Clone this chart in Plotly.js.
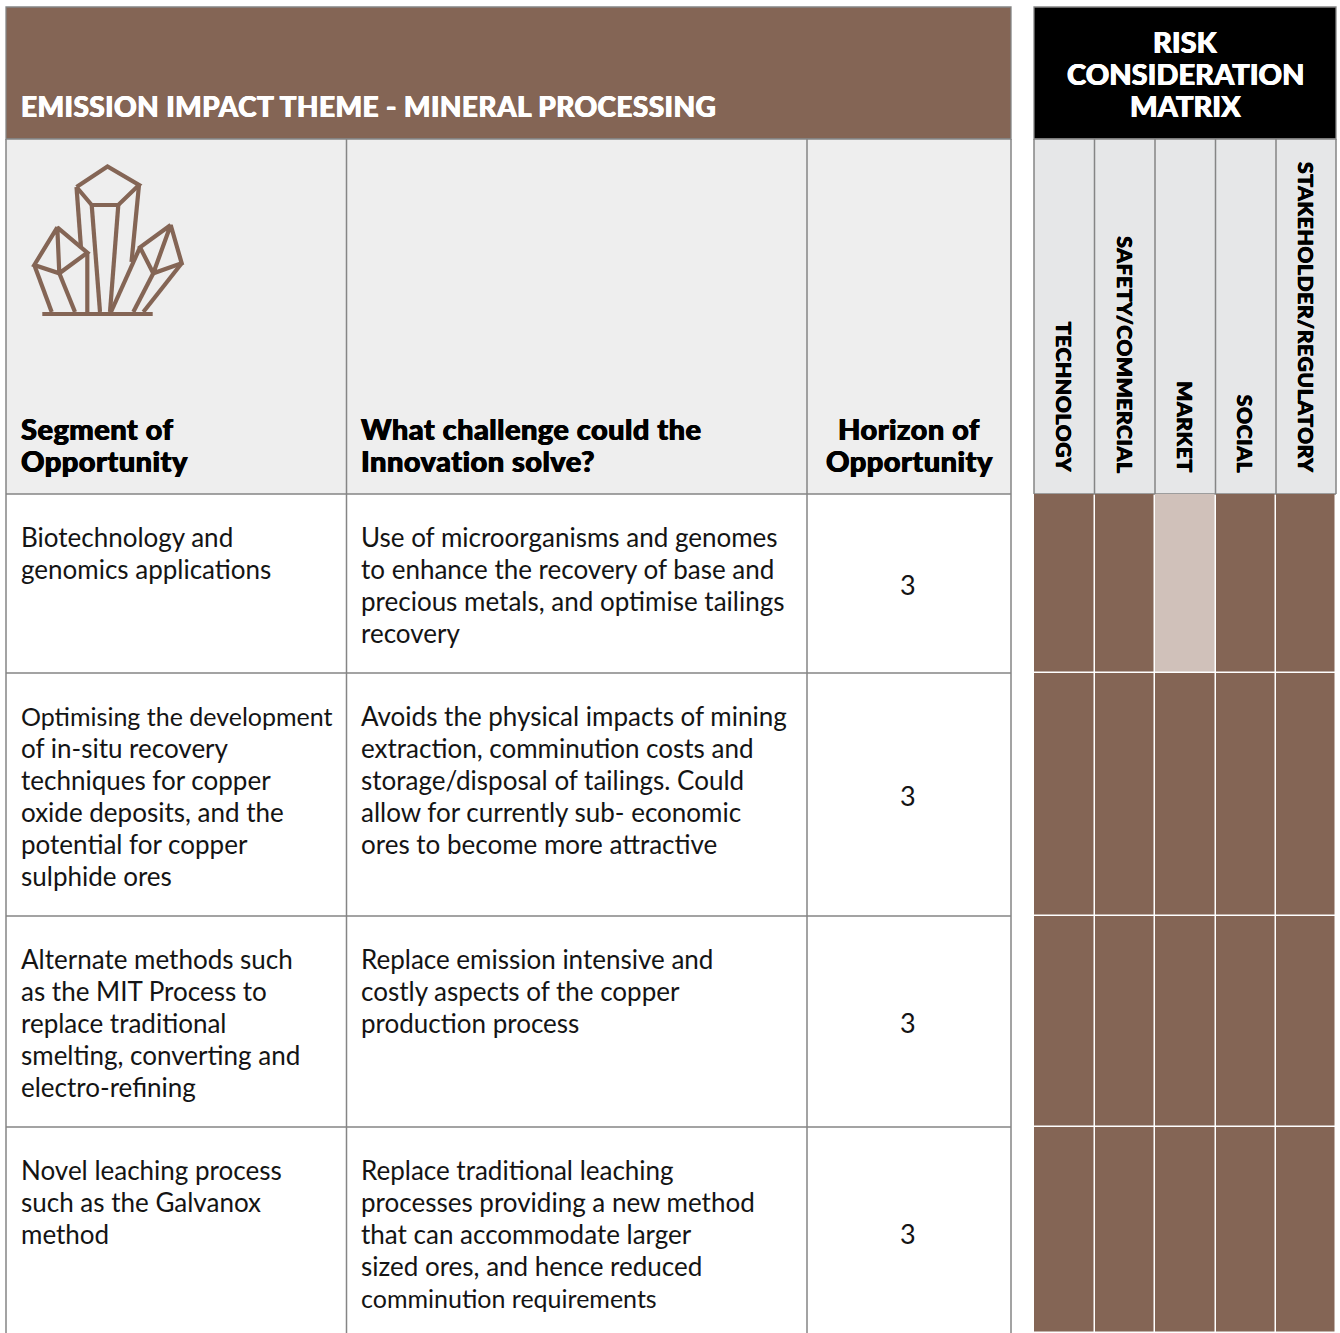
<!DOCTYPE html>
<html><head><meta charset="utf-8">
<script src="https://cdn.plot.ly/plotly-3.0.1.min.js"></script>
<style>html,body{margin:0;padding:0;background:#fff;overflow:hidden}#c{width:1340px;height:1333px}</style>
</head><body><div id="c"></div>
<script>
const FONT = 'Lato, sans-serif';
const BROWN = '#846555', LIGHT = '#d0c1ba', GRID = '#858585', INK = '#141414';

const titleText = 'EMISSION IMPACT THEME - MINERAL PROCESSING';
const matrixTitle = ['RISK', 'CONSIDERATION', 'MATRIX'];
const headers = [['Segment of', 'Opportunity'], ['What challenge could the', 'Innovation solve?'], ['Horizon of', 'Opportunity']];
const riskLabels = ['TECHNOLOGY', 'SAFETY/COMMERCIAL', 'MARKET', 'SOCIAL', 'STAKEHOLDER/REGULATORY'];
const segments = [
  ['Biotechnology and', 'genomics applications'],
  ['Optimising the development', 'of in-situ recovery', 'techniques for copper', 'oxide deposits, and the', 'potential for copper', 'sulphide ores'],
  ['Alternate methods such', 'as the MIT Process to', 'replace traditional', 'smelting, converting and', 'electro-refining'],
  ['Novel leaching process', 'such as the Galvanox', 'method']
];
const challenges = [
  ['Use of microorganisms and genomes', 'to enhance the recovery of base and', 'precious metals, and optimise tailings', 'recovery'],
  ['Avoids the physical impacts of mining', 'extraction, comminution costs and', 'storage/disposal of tailings. Could', 'allow for currently sub- economic', 'ores to become more attractive'],
  ['Replace emission intensive and', 'costly aspects of the copper', 'production process'],
  ['Replace traditional leaching', 'processes providing a new method', 'that can accommodate larger', 'sized ores, and hence reduced', 'comminution requirements']
];
const horizon = [3, 3, 3, 3];
// 1 = dark (full consideration), 0 = light
const riskZ = [
  [1, 1, 0, 1, 1],
  [1, 1, 1, 1, 1],
  [1, 1, 1, 1, 1],
  [1, 1, 1, 1, 1]
];
const tableEdgesX = [6, 346.5, 807, 1011];
const matrixEdgesX = [1034, 1094.5, 1155, 1215.5, 1276, 1336];
const rowEdgesY = [494, 673, 916, 1127, 1333];
const headerTopY = 7, headerMidY = 139;
const rowTextY = [536.5, 715.5, 958.5, 1169.5];
const horizonY = [584, 795, 1022, 1233];
const lineStep = 32;
const BODY = 26, NARROW = 25;
const narrowLines = ['Optimising the development', 'comminution requirements'];

// crystal icon outline, segments separated by null
const iconX = [76.5,107.5,139,118.3,91.7,76.5,null,76.5,81,null,139,131.5,null,91.7,100,null,118.3,110,null,
  57.3,34.3,59.3,87.3,57.3,59.3,null,34.3,51.7,null,59.3,75,null,87.3,87.3,null,
  170.7,140,153.3,181.7,170.7,153.3,null,153.3,133.3,null,181.7,143.3,null,140,111,null,42.3,152.7];
const iconY = [187,166.5,185,205,205,187,null,187,248,null,185,262,null,205,312,null,205,312,null,
  227.3,265,273.3,252.7,227.3,273.3,null,265,312,null,273.3,312,null,252.7,312,null,
  225,247.3,273.3,263.3,225,273.3,null,273.3,312,null,263.3,312,null,247.3,312,null,314,314];

function rect(x0, x1, y0, y1, fill, line) {
  return {type:'rect', xref:'x', yref:'y', layer:'below', x0, x1, y0, y1, fillcolor:fill,
    line: line ? {color:line, width:1.3} : {width:0}};
}
function vline(x, y0, y1) {
  return {type:'line', xref:'x', yref:'y', layer:'below', x0:x, x1:x, y0, y1, line:{color:GRID, width:1.5}};
}
function hline(y, x0, x1) {
  return {type:'line', xref:'x', yref:'y', layer:'below', x0, x1, y0:y, y1:y, line:{color:GRID, width:1.5}};
}
const last = rowEdgesY[rowEdgesY.length - 1];
const shapes = [
  rect(tableEdgesX[0], tableEdgesX[3], headerTopY, headerMidY, BROWN, GRID),
  rect(tableEdgesX[0], tableEdgesX[3], headerMidY, rowEdgesY[0], '#eeeeee', null),
  rect(matrixEdgesX[0], matrixEdgesX[5], headerTopY, headerMidY, '#000000', GRID),
  rect(matrixEdgesX[0], matrixEdgesX[5], headerMidY, rowEdgesY[0], '#e6e7e8', null)
];
tableEdgesX.forEach(x => shapes.push(vline(x, headerMidY, last)));
matrixEdgesX.forEach(x => shapes.push(vline(x, headerMidY, rowEdgesY[0])));
shapes.push(hline(headerMidY, tableEdgesX[0], tableEdgesX[3]));
shapes.push(hline(headerMidY, matrixEdgesX[0], matrixEdgesX[5]));
shapes.push(hline(rowEdgesY[0], matrixEdgesX[0], matrixEdgesX[5]));
rowEdgesY.slice(0, 4).forEach(y => shapes.push(hline(y, tableEdgesX[0], tableEdgesX[3])));

const ann = [];
function txt(text, x, y, size, color, heavy, anchor, angle, spacing) {
  const font = {family:FONT, size, color, weight: heavy ? 900 : 400};
  if (heavy) font.shadow = '0.5px 0 0 ' + color + ', -0.4px 0 0 ' + color;
  const label = spacing ? '<span style="letter-spacing:' + spacing + 'px">' + text + '</span>' : text;
  ann.push({text:label, x, y, xref:'x', yref:'y', showarrow:false, xanchor:anchor || 'left',
    yanchor: angle ? 'bottom' : 'middle', textangle: angle || 0, font, borderpad:0, borderwidth:0});
}
txt(titleText, 21, 105.5, 28, '#ffffff', true, 'left', 0, 0.4);
matrixTitle.forEach((t, i) => txt(t, 1185, 41 + i * lineStep, 29, '#ffffff', true, 'center'));
headers[0].forEach((t, i) => txt(t, 21, 428 + i * lineStep, 29, '#000000', true, 'left', 0, 0.45));
headers[1].forEach((t, i) => txt(t, 361, 428 + i * lineStep, 29, '#000000', true, 'left', 0, 0.45));
headers[2].forEach((t, i) => txt(t, 909, 428 + i * lineStep, 29, '#000000', true, 'center', 0, 0.45));
const bodySize = t => narrowLines.includes(t) ? NARROW : BODY;
segments.forEach((lines, r) => lines.forEach((t, i) => txt(t, 21, rowTextY[r] + i * lineStep, bodySize(t), INK)));
challenges.forEach((lines, r) => lines.forEach((t, i) => txt(t, 361, rowTextY[r] + i * lineStep, bodySize(t), INK)));
horizon.forEach((v, r) => txt(String(v), 908, horizonY[r], 27, INK, false, 'center'));
riskLabels.forEach((t, i) => txt(t, (matrixEdgesX[i] + matrixEdgesX[i + 1]) / 2 + 0.5, 473, 21, '#000000', true, 'center', 90, 0.65));

const traces = [
  {type:'heatmap', x:matrixEdgesX, y:rowEdgesY, z:riskZ, zmin:0, zmax:1, showscale:false, xgap:1.5, ygap:1.5,
   colorscale:[[0, LIGHT], [1, BROWN]], hoverinfo:'skip'},
  {type:'scatter', mode:'lines', x:iconX, y:iconY, line:{color:BROWN, width:4.2, simplify:false}, connectgaps:false, hoverinfo:'skip'}
];
const layout = {
  width:1340, height:1333, margin:{l:0, r:0, t:0, b:0}, paper_bgcolor:'#ffffff', plot_bgcolor:'#ffffff',
  showlegend:false, shapes, annotations:ann,
  xaxis:{range:[0, 1340], visible:false, fixedrange:true},
  yaxis:{range:[1333, 0], visible:false, fixedrange:true}
};
Plotly.newPlot('c', traces, layout, {staticPlot:true, displayModeBar:false});
</script></body></html>
